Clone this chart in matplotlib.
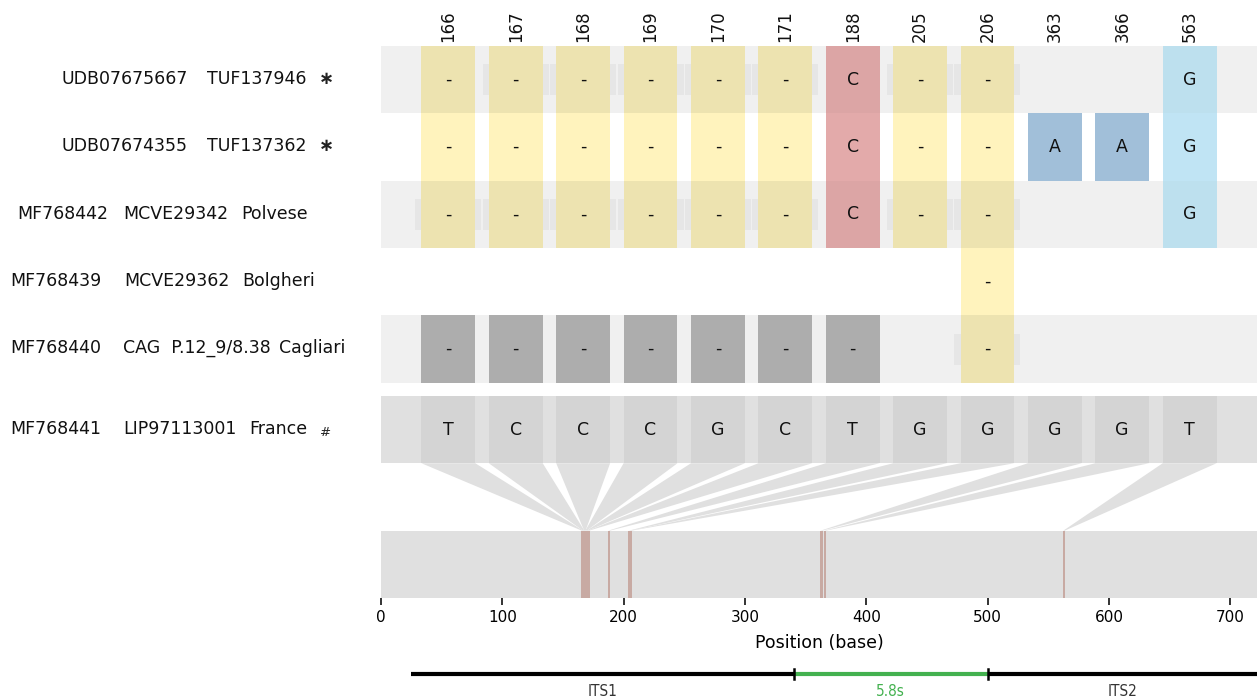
import matplotlib
matplotlib.use("Agg")
import matplotlib.pyplot as plt
from matplotlib.patches import Polygon, Rectangle

# alignment length and the variable sites shown as columns
seq_length = 722
positions = [166, 167, 168, 169, 170, 171, 188, 205, 206, 363, 366, 563]
reference_bases = ["T", "C", "C", "C", "G", "C", "T", "G", "G", "G", "G", "T"]

# calls per sample at each site: "" = same as reference, "-" = gap, "?" = not covered
sample_calls = [
    ["-", "-", "-", "-", "-", "-", "C", "-", "-", "", "", "G"],
    ["-", "-", "-", "-", "-", "-", "C", "-", "-", "A", "A", "G"],
    ["-", "-", "-", "-", "-", "-", "C", "-", "-", "", "", "G"],
    ["", "", "", "", "", "", "", "", "-", "", "", ""],
    ["?", "?", "?", "?", "?", "?", "?", "", "-", "", "", ""],
]

accessions = ["UDB07675667", "UDB07674355", "MF768442", "MF768439", "MF768440", "MF768441"]
vouchers = ["TUF137946", "TUF137362", "MCVE29342", "MCVE29362", "CAG  P.12_9/8.38", "LIP97113001"]
localities = ["", "", "Polvese", "Bolgheri", "Cagliari", "France"]
flags = ["*", "*", "", "", "", "#"]

# faint label boxes left behind by the alignment viewer
shadow_cells = [(0, 1), (0, 2), (0, 3), (0, 4), (0, 5), (0, 7), (0, 8),
                (2, 0), (2, 1), (2, 2), (2, 3), (2, 4), (2, 5), (2, 7), (2, 8),
                (4, 8)]

regions = ["ITS1", "5.8s", "ITS2"]
region_starts = [25, 340, 500]
region_ends = [340, 500, 722]

# cell colours on plain rows and on shaded rows
cell_colors = {"-": "#fff3bd", "C": "#e3aaaa", "A": "#a1bfd9", "G": "#c0e4f4", "?": "#b8b8b8"}
cell_colors_shaded = {"-": "#ede3b0", "C": "#dca5a5", "A": "#9dbad3", "G": "#bde0ee", "?": "#adadad"}
row_shades = ["#f0f0f0", "#ffffff"]
region_colors = {"ITS1": "black", "5.8s": "#43b14f", "ITS2": "black"}
region_text_colors = {"ITS1": "#333333", "5.8s": "#43b14f", "ITS2": "#333333"}

W, H = 1257, 700
fig = plt.figure(figsize=(W / 100, H / 100), dpi=100)
ax_left, ax_right, ax_top, ax_bottom = 381, 1257, 46, 598
ax = fig.add_axes([ax_left / W, 1 - ax_bottom / H, (ax_right - ax_left) / W, (ax_bottom - ax_top) / H])

n_cols = len(positions)
spacing = seq_length / (n_cols + 1)
centers = [spacing * (k + 1) for k in range(n_cols)]
cell_w = 0.8 * spacing
gap = 0.193
top = 5 + gap + 3

# sample rows
for i, calls in enumerate(sample_calls):
    y0 = top - (i + 1)
    shaded = i % 2 == 0
    ax.add_patch(Rectangle((0, y0), seq_length, 1, facecolor=row_shades[i % 2],
                           edgecolor="none", zorder=0))
    for (r, c) in shadow_cells:
        if r == i:
            ax.add_patch(Rectangle((centers[c] - 0.49 * spacing, y0 + 0.27), 0.98 * spacing, 0.46,
                                   facecolor="black", alpha=0.04, edgecolor="none", zorder=1))
    colors = cell_colors_shaded if shaded else cell_colors
    for k, call in enumerate(calls):
        if not call:
            continue
        ax.add_patch(Rectangle((centers[k] - cell_w / 2, y0), cell_w, 1,
                               facecolor=colors[call], edgecolor="none", zorder=2))
        ax.text(centers[k], y0 + 0.5, "-" if call == "?" else call, ha="center", va="center",
                fontsize=12.5, color="#111111", zorder=5)

# reference row
ref_y0 = 2
ax.add_patch(Rectangle((0, ref_y0), seq_length, 1, facecolor="#e0e0e0", edgecolor="none", zorder=1))
for k, base in enumerate(reference_bases):
    ax.add_patch(Rectangle((centers[k] - cell_w / 2, ref_y0), cell_w, 1,
                           facecolor="#d4d4d4", edgecolor="none", zorder=2))
    ax.text(centers[k], ref_y0 + 0.5, base, ha="center", va="center", fontsize=12.5,
            color="#111111", zorder=5)

# wedges linking each column to its position on the sequence
for k, pos in enumerate(positions):
    ax.add_patch(Polygon([(centers[k] - cell_w / 2, 2), (centers[k] + cell_w / 2, 2),
                          (pos + 0.6, 1), (pos - 0.6, 1)],
                         closed=True, facecolor="#e0e0e0", edgecolor="none", zorder=1))

# full-length sequence track
ax.add_patch(Rectangle((0, 0), seq_length, 1, facecolor="#e0e0e0", edgecolor="none", zorder=1))
for pos in positions:
    ax.add_patch(Rectangle((pos - 1.1, 0), 2.2, 1, facecolor="#c8aaa3", edgecolor="none", zorder=2))

# column headers
for k, pos in enumerate(positions):
    ax.text(centers[k], top + 0.06, str(pos), rotation=90, ha="center", va="bottom",
            fontsize=12, color="#111111")

ax.set_xlim(0, seq_length)
ax.set_ylim(0, top)
for side in ["top", "right", "left", "bottom"]:
    ax.spines[side].set_visible(False)
ax.set_yticks([])
ax.set_xticks(range(0, 701, 100))
ax.tick_params(axis="x", length=5, width=1.2, labelsize=11, pad=4, color="#111111")
ax.set_xlabel("Position (base)", fontsize=12.5, labelpad=6)

# row labels
row_centers = [79, 146, 214, 281, 348, 429]
acc_x = [62, 62, 17, 10, 10, 10]
voucher_x = [207, 207, 123, 124, 123, 123]
locality_x = [0, 0, 241, 242, 279, 249]
for i in range(len(accessions)):
    y = 1 - row_centers[i] / H
    fig.text(acc_x[i] / W, y, accessions[i], ha="left", va="center", fontsize=12.5, color="#111111")
    fig.text(voucher_x[i] / W, y, vouchers[i], ha="left", va="center", fontsize=12.5, color="#111111")
    if localities[i]:
        fig.text(locality_x[i] / W, y, localities[i], ha="left", va="center", fontsize=12.5,
                 color="#111111")
    if flags[i] == "*":
        fig.text(319 / W, y, "\u2217", ha="left", va="center", fontsize=13, fontweight="bold",
                 color="#222222")
    elif flags[i] == "#":
        fig.text(320 / W, y - 3 / H, "#", ha="left", va="center", fontsize=9.5, color="#222222")

# ITS / 5.8S annotation under the axis
ax2 = fig.add_axes([ax_left / W, 0, (ax_right - ax_left) / W, 42 / H])
ax2.set_xlim(0, seq_length)
ax2.set_ylim(0, 42)
ax2.axis("off")
for name, start, end in zip(regions, region_starts, region_ends):
    ax2.plot([start, end], [26, 26], color=region_colors[name], lw=3, solid_capstyle="butt",
             clip_on=False)
    ax2.text((start + end) / 2, 9, name, ha="center", va="center", fontsize=11,
             fontstretch="condensed", color=region_text_colors[name])
for x in region_starts[1:]:
    ax2.plot([x, x], [21, 31], color="black", lw=1.8, clip_on=False)

fig.savefig("out.png", dpi=100)
